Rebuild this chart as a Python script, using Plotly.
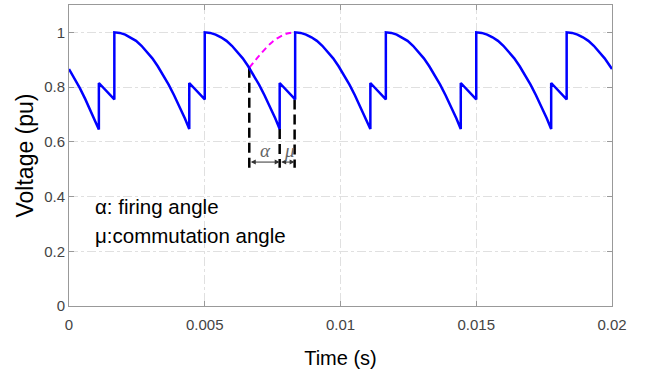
import plotly.graph_objects as go

# Output voltage waveform (pu)
t_wave = [
    0.0, 0.0002, 0.0004, 0.0006, 0.0008, 0.0010, 0.0011, 0.0011, 0.00167, 0.00167,
    0.00187, 0.00207, 0.00227, 0.00247, 0.00267, 0.00287, 0.00307, 0.00327, 0.00347,
    0.00367, 0.00387, 0.00407, 0.00427, 0.00443, 0.00443, 0.0050, 0.0050,
    0.0052, 0.0054, 0.0056, 0.0058, 0.0060, 0.0062, 0.0064, 0.0066, 0.0068,
    0.0070, 0.0072, 0.0074, 0.0076, 0.00776, 0.00776, 0.00833, 0.00833,
    0.00853, 0.00873, 0.00893, 0.00913, 0.00933, 0.00953, 0.00973, 0.00993, 0.01013,
    0.01033, 0.01053, 0.01073, 0.01093, 0.0111, 0.0111, 0.01167, 0.01167,
    0.01187, 0.01207, 0.01227, 0.01247, 0.01267, 0.01287, 0.01307, 0.01327, 0.01347,
    0.01367, 0.01387, 0.01407, 0.01427, 0.01443, 0.01443, 0.0150, 0.0150,
    0.0152, 0.0154, 0.0156, 0.0158, 0.0160, 0.0162, 0.0164, 0.0166, 0.0168,
    0.0170, 0.0172, 0.0174, 0.0176, 0.01776, 0.01776, 0.01833, 0.01833,
    0.01853, 0.01873, 0.01893, 0.01913, 0.01933, 0.01953, 0.01973, 0.01993, 0.0200,
]
v_wave = [
    0.866, 0.832, 0.796, 0.756, 0.713, 0.668, 0.645, 0.815, 0.755, 1.0,
    0.998, 0.992, 0.982, 0.969, 0.951, 0.930, 0.905, 0.876, 0.844,
    0.809, 0.770, 0.729, 0.685, 0.647, 0.815, 0.755, 1.0,
    0.998, 0.992, 0.982, 0.969, 0.951, 0.930, 0.905, 0.876, 0.844,
    0.809, 0.770, 0.729, 0.685, 0.647, 0.815, 0.755, 1.0,
    0.998, 0.992, 0.982, 0.969, 0.951, 0.930, 0.905, 0.876, 0.844,
    0.809, 0.770, 0.729, 0.685, 0.647, 0.815, 0.755, 1.0,
    0.998, 0.992, 0.982, 0.969, 0.951, 0.930, 0.905, 0.876, 0.844,
    0.809, 0.770, 0.729, 0.685, 0.647, 0.815, 0.755, 1.0,
    0.998, 0.992, 0.982, 0.969, 0.951, 0.930, 0.905, 0.876, 0.844,
    0.809, 0.770, 0.729, 0.685, 0.647, 0.815, 0.755, 1.0,
    0.998, 0.992, 0.982, 0.969, 0.951, 0.930, 0.905, 0.876, 0.866,
]

# Uncontrolled envelope (magenta dashed)
t_env = [0.00664, 0.0070, 0.0075, 0.0080, 0.00833]
v_env = [0.871, 0.914, 0.966, 0.995, 1.0]

# Marker lines for firing angle and commutation angle
marker_t = [0.00664, 0.00776, 0.00831]
marker_top = [0.871, 0.647, 0.755]
marker_bottom = 0.505
arrow_level = 0.526
angle_labels = ["<i>α</i>", "<i>μ</i>"]
angle_label_t = [0.00722, 0.00812]
angle_label_v = 0.567

notes = ["α: firing angle", "μ:commutation angle"]
note_t = 0.00088
note_v = [0.365, 0.257]

x_ticks = [0, 0.005, 0.01, 0.015, 0.02]
x_tick_text = ["0", "0.005", "0.01", "0.015", "0.02"]
y_ticks = [0, 0.2, 0.4, 0.6, 0.8, 1.0]
y_tick_text = ["0", "0.2", "0.4", "0.6", "0.8", "1"]

SANS = "Liberation Sans, Arial, sans-serif"

fig = go.Figure()

for tx, top in zip(marker_t, marker_top):
    fig.add_trace(go.Scatter(
        x=[tx, tx], y=[top, marker_bottom], mode="lines",
        line=dict(color="black", width=2.5, dash="10px,5px"),
        hoverinfo="skip", showlegend=False))

fig.add_trace(go.Scatter(
    x=t_env, y=v_env, mode="lines",
    line=dict(color="#ff00ff", width=2, dash="6px,4px", shape="spline"),
    showlegend=False))

fig.add_trace(go.Scatter(
    x=t_wave, y=v_wave, mode="lines",
    line=dict(color="#0000ff", width=2.5),
    showlegend=False))

# double-headed arrows
for a, b in [(marker_t[0], marker_t[1]), (marker_t[1], marker_t[2])]:
    fig.add_annotation(
        x=b, y=arrow_level, ax=a, ay=arrow_level,
        xref="x", yref="y", axref="x", ayref="y",
        text="", showarrow=True, arrowhead=2, arrowsize=1, arrowwidth=1,
        arrowcolor="#333333", arrowside="end+start", standoff=0, startstandoff=0)

for lab, lt in zip(angle_labels, angle_label_t):
    fig.add_annotation(
        x=lt, y=angle_label_v, xref="x", yref="y", text=lab, showarrow=False,
        font=dict(family="Liberation Serif, Times New Roman, serif", size=19,
                  color="#666666"),
        xanchor="center", yanchor="middle")

for txt, nv in zip(notes, note_v):
    fig.add_annotation(
        x=note_t, y=nv, xref="x", yref="y", text=txt, showarrow=False,
        font=dict(family=SANS, size=20.5, color="black"),
        xanchor="left", yanchor="middle")

axis_common = dict(
    showline=True, linecolor="#999999", linewidth=1, mirror="ticks",
    ticks="inside", ticklen=5, tickcolor="#999999",
    showgrid=True, gridcolor="#e0e0e0", gridwidth=1, griddash="dashdot",
    zeroline=False, automargin=False,
)

fig.update_xaxes(
    range=[0, 0.02], tickvals=x_ticks, ticktext=x_tick_text,
    tickfont=dict(family=SANS, size=15, color="#444444"),
    ticklabelstandoff=5,
    title=dict(text="Time (s)", font=dict(family=SANS, size=20, color="black"),
               standoff=18),
    **axis_common)
fig.update_yaxes(
    range=[0, 1.1], tickvals=y_ticks, ticktext=y_tick_text,
    tickfont=dict(family=SANS, size=15, color="#444444"),
    title=dict(text="Voltage (pu)", font=dict(family=SANS, size=23, color="black"),
               standoff=4),
    **axis_common)

fig.update_layout(
    width=646, height=378,
    margin=dict(l=69, r=34, t=5, b=72),
    plot_bgcolor="white", paper_bgcolor="white",
    showlegend=False,
)

fig.write_html("out.html",
               config={"displayModeBar": False, "staticPlot": True},
               post_script="document.body.style.margin='0';document.body.style.overflow='hidden';")
